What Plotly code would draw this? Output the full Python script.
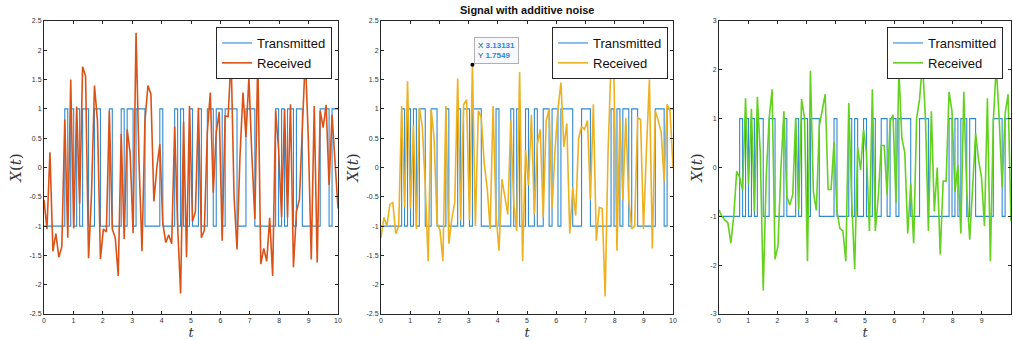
import numpy as np
import plotly.graph_objects as go

# ---------------- data ----------------
t = np.linspace(0, 10, 100)

transmitted = [
    -1, -1, -1, -1, -1, -1, -1, 1, -1, 1,
    -1, 1, -1, 1, 1, -1, -1, 1, 1, -1,
    -1, -1, 1, -1, -1, -1, 1, -1, 1, 1,
    -1, 1, 1, 1, -1, -1, -1, -1, -1, 1,
    -1, -1, -1, -1, 1, -1, 1, -1, -1, 1,
    -1, -1, 1, -1, -1, 1, 1, -1, 1, 1,
    -1, 1, 1, 1, 1, -1, -1, -1, 1, 1,
    1, -1, -1, -1, -1, -1, -1, -1, 1, -1,
    1, -1, 1, 1, -1, 1, 1, -1, -1, -1,
    -1, -1, -1, 1, 1, 1, -1, 1, 1, 1,
]

received_1 = [
    -0.55, -1.05, 0.26, -1.43, -1.13, -1.53, -1.35, 0.82, -1.2, 1.5,
    -1.04, 1.04, -0.62, 1.72, 1.56, -1.55, -0.45, 1.4, 0.8, -1.56,
    -1.05, -1.1, 0.97, -1.05, -1.2, -1.85, 0.57, -1.22, 0.65, 0.25,
    -1.12, 2.3, 0.1, -1.43, 0.8, 1.4, 1.25, -0.58, 0.0, 0.4,
    -0.95, -1.28, -1.15, -1.3, 0.7, -1.0, -2.15, 0.78, -1.53, 1.05,
    -0.92, -0.75, 1.02, -1.2, -1.07, 0.6, 1.28, -0.43, 0.6, 0.95,
    -1.25, 0.88, 0.87, 1.9, -0.5, -1.4, 0.2, 1.28, 0.52, 1.54,
    0.2, -0.88, 1.9, -1.65, -1.38, -1.6, -0.86, -1.85, 0.97, 0.3,
    -0.85, 1.0, -0.85, 1.08, -1.7, -0.75, -0.55, 0.6, 1.9, 0.5,
    -1.57, 1.05, -1.62, 0.97, 0.68, 1.07, -0.3, 0.9, 0.0, -0.7,
]

received_2 = [
    -1.2, -0.85, -1.0, -0.63, -0.6, -1.13, -1.0, 1.05, -0.68, 1.47,
    -0.7, 0.72, -1.05, 1.02, 0.7, -0.3, -1.6, 1.0, 0.5, -0.95,
    -1.07, -1.6, 1.05, -1.3, -0.88, -0.6, 1.52, -0.9, 1.07, 1.16,
    -0.9, 1.7549, -1.0, 0.97, 0.85, 0.07, -0.35, -1.05, 1.05, -0.8,
    -1.42, -0.2, -0.5, -0.8, 0.8, -0.6, -1.08, 1.63, -1.6, 0.3,
    -0.3, 0.9, -0.8, 0.4, 0.65, -0.85, 0.8, 1.0, -0.7, 0.3,
    1.0, 1.45, 0.35, 0.75, -1.13, -0.34, -0.82, 0.5, 0.7, 0.65,
    0.8, -0.55, 1.08, -1.25, -0.68, -0.7, -2.2, 0.3, 1.8, 1.5,
    -1.42, 0.85, -0.55, 0.85, -0.55, -1.05, -1.0, 0.85, 0.82, -1.05,
    0.3, 1.5, -1.38, 0.97, 0.8, 0.6, -0.23, 1.08, 0.97, 0.0,
]

received_3 = [
    -0.87, -1.0, -1.08, -1.13, -1.55, -1.0, -0.08, -0.2, -0.47, 1.42,
    -0.35, 1.2, -0.9, 1.45, 0.3, -2.52, -0.2, 1.0, 1.6, -1.88,
    -1.6, 0.0, 1.15, -0.6, -0.77, -0.55, 1.02, -0.85, 1.4, 1.0,
    -1.92, 1.98, -0.5, -0.88, 0.85, 1.2, 1.5, -0.45, -0.45, 0.52,
    -0.9, -1.25, -1.3, -1.92, 1.32, -0.7, -2.08, 0.42, -0.05, 0.78,
    0.3, -1.3, 1.6, -1.3, -0.6, 0.45, 0.45, -0.55, 0.95, 1.08,
    -0.72, 1.98, 0.6, 0.3, -1.35, -0.33, -1.55, 1.0, 1.4, 2.15,
    1.0, -1.3, 1.15, -0.9, 0.0, -1.78, -0.28, -0.28, 1.55, 1.15,
    -0.5, 0.05, -1.35, 1.55, -0.5, -1.48, -0.3, 0.7, 0.15, -0.2,
    -1.2, 1.42, -1.92, 0.95, 2.08, 1.0, -0.4, 1.1, 1.5, -1.1,
]

x_ticks = [0, 1, 2, 3, 4, 5, 6, 7, 8, 9, 10]
y_ticks_a = [-2.5, -2, -1.5, -1, -0.5, 0, 0.5, 1, 1.5, 2, 2.5]
y_ticks_a_text = ["-2.5", "-2", "-1.5", "-1", "-0.5", "0", "0.5", "1", "1.5", "2", "2.5"]
y_ticks_b = [-3, -2, -1, 0, 1, 2, 3]
y_ticks_b_text = ["-3", "-2", "-1", "0", "1", "2", "3"]

tip_x = t[31]
tip_y = received_2[31]

# ---------------- styling ----------------
W, H = 1013, 340
BLUE = "#2F8AD0"
COLORS = ["#D95319", "#EDB120", "#63D11E"]
AX = "#262626"
FONT = "Liberation Sans, Arial, sans-serif"

xdoms = [(44 / W, 338 / W), (381 / W, 673 / W), (719 / W, 1011 / W)]
ydom = (1 - 314 / H, 1 - 21 / H)

fig = go.Figure()
received = [received_1, received_2, received_3]
legend_right = [332 / W, 668 / W, 1003 / W]

for i in range(3):
    xa = "x" if i == 0 else f"x{i+1}"
    ya = "y" if i == 0 else f"y{i+1}"
    lg = "legend" if i == 0 else f"legend{i+1}"
    fig.add_trace(go.Scatter(x=t, y=transmitted, mode="lines", name="Transmitted",
                             line=dict(color=BLUE, width=1.1, shape="hv"),
                             xaxis=xa, yaxis=ya, legend=lg))
    fig.add_trace(go.Scatter(x=t, y=received[i], mode="lines", name="Received",
                             line=dict(color=COLORS[i], width=1.6),
                             xaxis=xa, yaxis=ya, legend=lg))

# data tip marker
fig.add_trace(go.Scatter(x=[tip_x], y=[tip_y], mode="markers",
                         marker=dict(color="black", size=4), showlegend=False,
                         xaxis="x2", yaxis="y2"))

layout = dict(
    width=W, height=H, margin=dict(l=0, r=0, t=0, b=0),
    paper_bgcolor="white", plot_bgcolor="white", template="none",
    showlegend=True,
)

for i in range(3):
    sfx = "" if i == 0 else str(i + 1)
    yt, ytt = (y_ticks_a, y_ticks_a_text) if i < 2 else (y_ticks_b, y_ticks_b_text)
    yr = [-2.5, 2.5] if i < 2 else [-3, 3]
    layout["xaxis" + sfx] = dict(
        domain=list(xdoms[i]), anchor="y" + sfx, range=[0, 10],
        tickvals=x_ticks, ticktext=[str(v) for v in x_ticks],
        ticks="inside", ticklen=3, tickcolor=AX, showline=True, linecolor=AX,
        linewidth=1, mirror="allticks", showgrid=False, zeroline=False,
        tickfont=dict(size=7, color="#333", family=FONT),
        title=dict(text="<i>t</i>", font=dict(size=13, family="DejaVu Serif", color="#333"),
                   standoff=9),
    )
    layout["yaxis" + sfx] = dict(
        domain=list(ydom), anchor="x" + sfx, range=yr,
        tickvals=yt, ticktext=ytt,
        ticks="inside", ticklen=3, tickcolor=AX, showline=True, linecolor=AX,
        linewidth=1, mirror="allticks", showgrid=False, zeroline=False,
        tickfont=dict(size=7, color="#333", family=FONT),
        title=dict(text="<i>X</i>(<i>t</i>)", font=dict(size=15, family="DejaVu Serif", color="#333"),
                   standoff=4),
    )
    lg = "legend" if i == 0 else f"legend{i+1}"
    layout[lg] = dict(
        x=legend_right[i], y=1 - 27 / H, xanchor="right", yanchor="top",
        xref="paper", yref="paper",
        bgcolor="white", bordercolor=AX, borderwidth=1,
        font=dict(size=13, family=FONT, color="#111"),
        tracegroupgap=0, itemwidth=30,
    )

fig.update_layout(**layout)

fig.add_annotation(
    text="<b>Signal with additive noise</b>", x=527 / W, y=1 - 10 / H,
    xref="paper", yref="paper", showarrow=False, xanchor="center", yanchor="middle",
    font=dict(size=11, family=FONT, color="#111"),
)

fig.add_annotation(
    text="X <span style='color:#1E88E5'><b>3.13131</b></span><br>Y <span style='color:#1E88E5'><b>1.7549</b></span>",
    x=3.18, y=2.23, xref="x2", yref="y2", xanchor="left", yanchor="top",
    showarrow=False, align="left", bgcolor="#F7F8FC", bordercolor="#B0B0B0",
    borderwidth=1, borderpad=3, font=dict(size=8, family=FONT, color="#444"),
)

fig.write_html("out.html", config={"displayModeBar": False},
               post_script="document.body.style.margin='0';")
